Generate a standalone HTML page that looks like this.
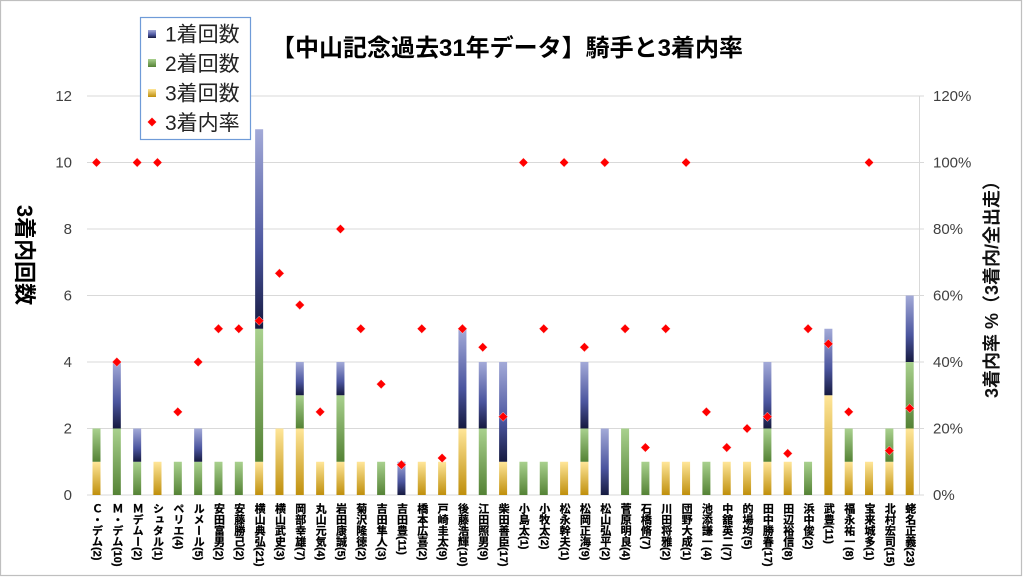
<!DOCTYPE html>
<html><head><meta charset="utf-8">
<style>
html,body{margin:0;padding:0;background:#fff;}
#wrap{position:relative;width:1024px;height:577px;overflow:hidden;background:#fff;}
svg{position:absolute;left:0;top:0;}
.xl{position:absolute;top:503px;width:12px;writing-mode:vertical-rl;text-orientation:mixed;font-family:"Liberation Sans","Noto Sans CJK JP",sans-serif;font-weight:bold;font-size:11px;line-height:12px;color:#000;white-space:nowrap;-webkit-text-stroke:0.25px #000;}
</style></head>
<body><div id="wrap">
<svg width="1024" height="577" viewBox="0 0 1024 577" xmlns="http://www.w3.org/2000/svg">
<defs>
<linearGradient id="g3" x1="0" y1="0" x2="0" y2="1"><stop offset="0" stop-color="#ffe699"/><stop offset="1" stop-color="#bf8f0c"/></linearGradient>
<linearGradient id="g2" x1="0" y1="0" x2="0" y2="1"><stop offset="0" stop-color="#a9d18e"/><stop offset="1" stop-color="#548235"/></linearGradient>
<linearGradient id="g1" x1="0" y1="0" x2="0" y2="1"><stop offset="0" stop-color="#a3aad8"/><stop offset="0.6" stop-color="#4b559e"/><stop offset="1" stop-color="#161a40"/></linearGradient>
<polygon id="d" points="0,-4.6 4.6,0 0,4.6 -4.6,0" fill="#ff0000" stroke="#ffd0d0" stroke-width="0.5"/>
</defs>
<rect x="0.5" y="0.5" width="1021" height="575" fill="#fff" stroke="#bfbfbf" stroke-width="1.2"/>
<g stroke="#d9d9d9" stroke-width="1">
<line x1="87" y1="96" x2="924" y2="96"/>
<line x1="87" y1="162.5" x2="924" y2="162.5"/>
<line x1="87" y1="229" x2="924" y2="229"/>
<line x1="87" y1="295.5" x2="924" y2="295.5"/>
<line x1="87" y1="362" x2="924" y2="362"/>
<line x1="87" y1="428.5" x2="924" y2="428.5"/>
<line x1="87" y1="495" x2="924" y2="495"/>
<line x1="919.5" y1="96" x2="919.5" y2="495"/>
</g>
<g font-family="Liberation Sans, sans-serif" font-size="15" fill="#404040" text-anchor="end">
<text x="72" y="101">12</text>
<text x="72" y="167.5">10</text>
<text x="72" y="234">8</text>
<text x="72" y="300.5">6</text>
<text x="72" y="367">4</text>
<text x="72" y="433.5">2</text>
<text x="72" y="500">0</text>
</g>
<g font-family="Liberation Sans, sans-serif" font-size="15" fill="#404040">
<text x="933" y="101">120%</text>
<text x="933" y="167.5">100%</text>
<text x="933" y="234">80%</text>
<text x="933" y="300.5">60%</text>
<text x="933" y="367">40%</text>
<text x="933" y="433.5">20%</text>
<text x="933" y="500">0%</text>
</g>
<g>
<rect x="92.5" y="461.75" width="8" height="33.25" fill="url(#g3)"/><rect x="92.5" y="428.5" width="8" height="33.25" fill="url(#g2)"/>
<rect x="112.83" y="428.5" width="8" height="66.5" fill="url(#g2)"/><rect x="112.83" y="362" width="8" height="66.5" fill="url(#g1)"/>
<rect x="133.16" y="461.75" width="8" height="33.25" fill="url(#g2)"/><rect x="133.16" y="428.5" width="8" height="33.25" fill="url(#g1)"/>
<rect x="153.49" y="461.75" width="8" height="33.25" fill="url(#g3)"/>
<rect x="173.82" y="461.75" width="8" height="33.25" fill="url(#g2)"/>
<rect x="194.15" y="461.75" width="8" height="33.25" fill="url(#g2)"/><rect x="194.15" y="428.5" width="8" height="33.25" fill="url(#g1)"/>
<rect x="214.48" y="461.75" width="8" height="33.25" fill="url(#g2)"/>
<rect x="234.81" y="461.75" width="8" height="33.25" fill="url(#g2)"/>
<rect x="255.14" y="461.75" width="8" height="33.25" fill="url(#g3)"/><rect x="255.14" y="328.75" width="8" height="133" fill="url(#g2)"/><rect x="255.14" y="129.25" width="8" height="199.5" fill="url(#g1)"/>
<rect x="275.47" y="428.5" width="8" height="66.5" fill="url(#g3)"/>
<rect x="295.8" y="428.5" width="8" height="66.5" fill="url(#g3)"/><rect x="295.8" y="395.25" width="8" height="33.25" fill="url(#g2)"/><rect x="295.8" y="362" width="8" height="33.25" fill="url(#g1)"/>
<rect x="316.13" y="461.75" width="8" height="33.25" fill="url(#g3)"/>
<rect x="336.46" y="461.75" width="8" height="33.25" fill="url(#g3)"/><rect x="336.46" y="395.25" width="8" height="66.5" fill="url(#g2)"/><rect x="336.46" y="362" width="8" height="33.25" fill="url(#g1)"/>
<rect x="356.79" y="461.75" width="8" height="33.25" fill="url(#g3)"/>
<rect x="377.12" y="461.75" width="8" height="33.25" fill="url(#g2)"/>
<rect x="397.45" y="461.75" width="8" height="33.25" fill="url(#g1)"/>
<rect x="417.78" y="461.75" width="8" height="33.25" fill="url(#g3)"/>
<rect x="438.11" y="461.75" width="8" height="33.25" fill="url(#g3)"/>
<rect x="458.44" y="428.5" width="8" height="66.5" fill="url(#g3)"/><rect x="458.44" y="328.75" width="8" height="99.75" fill="url(#g1)"/>
<rect x="478.77" y="428.5" width="8" height="66.5" fill="url(#g2)"/><rect x="478.77" y="362" width="8" height="66.5" fill="url(#g1)"/>
<rect x="499.1" y="461.75" width="8" height="33.25" fill="url(#g3)"/><rect x="499.1" y="362" width="8" height="99.75" fill="url(#g1)"/>
<rect x="519.43" y="461.75" width="8" height="33.25" fill="url(#g2)"/>
<rect x="539.76" y="461.75" width="8" height="33.25" fill="url(#g2)"/>
<rect x="560.09" y="461.75" width="8" height="33.25" fill="url(#g3)"/>
<rect x="580.42" y="461.75" width="8" height="33.25" fill="url(#g3)"/><rect x="580.42" y="428.5" width="8" height="33.25" fill="url(#g2)"/><rect x="580.42" y="362" width="8" height="66.5" fill="url(#g1)"/>
<rect x="600.75" y="428.5" width="8" height="66.5" fill="url(#g1)"/>
<rect x="621.08" y="428.5" width="8" height="66.5" fill="url(#g2)"/>
<rect x="641.41" y="461.75" width="8" height="33.25" fill="url(#g2)"/>
<rect x="661.74" y="461.75" width="8" height="33.25" fill="url(#g3)"/>
<rect x="682.07" y="461.75" width="8" height="33.25" fill="url(#g3)"/>
<rect x="702.4" y="461.75" width="8" height="33.25" fill="url(#g2)"/>
<rect x="722.73" y="461.75" width="8" height="33.25" fill="url(#g3)"/>
<rect x="743.06" y="461.75" width="8" height="33.25" fill="url(#g3)"/>
<rect x="763.39" y="461.75" width="8" height="33.25" fill="url(#g3)"/><rect x="763.39" y="428.5" width="8" height="33.25" fill="url(#g2)"/><rect x="763.39" y="362" width="8" height="66.5" fill="url(#g1)"/>
<rect x="783.72" y="461.75" width="8" height="33.25" fill="url(#g3)"/>
<rect x="804.05" y="461.75" width="8" height="33.25" fill="url(#g2)"/>
<rect x="824.38" y="395.25" width="8" height="99.75" fill="url(#g3)"/><rect x="824.38" y="328.75" width="8" height="66.5" fill="url(#g1)"/>
<rect x="844.71" y="461.75" width="8" height="33.25" fill="url(#g3)"/><rect x="844.71" y="428.5" width="8" height="33.25" fill="url(#g2)"/>
<rect x="865.04" y="461.75" width="8" height="33.25" fill="url(#g3)"/>
<rect x="885.37" y="461.75" width="8" height="33.25" fill="url(#g3)"/><rect x="885.37" y="428.5" width="8" height="33.25" fill="url(#g2)"/>
<rect x="905.7" y="428.5" width="8" height="66.5" fill="url(#g3)"/><rect x="905.7" y="362" width="8" height="66.5" fill="url(#g2)"/><rect x="905.7" y="295.5" width="8" height="66.5" fill="url(#g1)"/>
</g>
<g>
<use href="#d" x="96.5" y="162.5"/>
<use href="#d" x="116.83" y="362"/>
<use href="#d" x="137.16" y="162.5"/>
<use href="#d" x="157.49" y="162.5"/>
<use href="#d" x="177.82" y="411.88"/>
<use href="#d" x="198.15" y="362"/>
<use href="#d" x="218.48" y="328.75"/>
<use href="#d" x="238.81" y="328.75"/>
<use href="#d" x="259.14" y="320.83"/>
<use href="#d" x="279.47" y="273.33"/>
<use href="#d" x="299.8" y="305"/>
<use href="#d" x="320.13" y="411.88"/>
<use href="#d" x="340.46" y="229"/>
<use href="#d" x="360.79" y="328.75"/>
<use href="#d" x="381.12" y="384.17"/>
<use href="#d" x="401.45" y="464.77"/>
<use href="#d" x="421.78" y="328.75"/>
<use href="#d" x="442.11" y="458.06"/>
<use href="#d" x="462.44" y="328.75"/>
<use href="#d" x="482.77" y="347.22"/>
<use href="#d" x="503.1" y="416.76"/>
<use href="#d" x="523.43" y="162.5"/>
<use href="#d" x="543.76" y="328.75"/>
<use href="#d" x="564.09" y="162.5"/>
<use href="#d" x="584.42" y="347.22"/>
<use href="#d" x="604.75" y="162.5"/>
<use href="#d" x="625.08" y="328.75"/>
<use href="#d" x="645.41" y="447.5"/>
<use href="#d" x="665.74" y="328.75"/>
<use href="#d" x="686.07" y="162.5"/>
<use href="#d" x="706.4" y="411.88"/>
<use href="#d" x="726.73" y="447.5"/>
<use href="#d" x="747.06" y="428.5"/>
<use href="#d" x="767.39" y="416.76"/>
<use href="#d" x="787.72" y="453.44"/>
<use href="#d" x="808.05" y="328.75"/>
<use href="#d" x="828.38" y="343.86"/>
<use href="#d" x="848.71" y="411.88"/>
<use href="#d" x="869.04" y="162.5"/>
<use href="#d" x="889.37" y="450.67"/>
<use href="#d" x="909.7" y="408.26"/>
</g>
<text x="507" y="56" text-anchor="middle" font-family="Liberation Sans, Noto Sans CJK JP, sans-serif" font-weight="bold" font-size="24" fill="#000">【中山記念過去31年データ】騎手と3着内率</text>
<text transform="translate(17,255) rotate(90)" text-anchor="middle" font-family="Liberation Sans, Noto Sans CJK JP, sans-serif" font-weight="bold" font-size="22" fill="#000">3着内回数</text>
<text transform="translate(998,285) rotate(-90)" text-anchor="middle" font-family="Liberation Sans, Noto Sans CJK JP, sans-serif" font-weight="bold" font-size="18" fill="#111">3着内率 %（3着内/全出走）</text>
<rect x="140.5" y="17.5" width="110" height="122" fill="#fff" stroke="#6f9bd8" stroke-width="1.2"/>
<rect x="148" y="30" width="8" height="8" fill="url(#g1)"/>
<rect x="148" y="59" width="8" height="8" fill="url(#g2)"/>
<rect x="148" y="89" width="8" height="8" fill="url(#g3)"/>
<use href="#d" x="152" y="122"/>
<g font-family="Liberation Sans, Noto Sans CJK JP, sans-serif" font-size="21" fill="#222">
<text x="165" y="41.5">1着回数</text>
<text x="165" y="71">2着回数</text>
<text x="165" y="100.5">3着回数</text>
<text x="165" y="130">3着内率</text>
</g>
</svg>
<div class="xl" style="left:90.5px">Ｃ・デム(2)</div>
<div class="xl" style="left:110.83px">Ｍ・デム(10)</div>
<div class="xl" style="left:131.16px">Ｍデムー(2)</div>
<div class="xl" style="left:151.49px">シュタル(1)</div>
<div class="xl" style="left:171.82px">ペリエ(4)</div>
<div class="xl" style="left:192.15px">ルメール(5)</div>
<div class="xl" style="left:212.48px">安田富男(2)</div>
<div class="xl" style="left:232.81px">安藤勝己(2)</div>
<div class="xl" style="left:253.14px">横山典弘(21)</div>
<div class="xl" style="left:273.47px">横山武史(3)</div>
<div class="xl" style="left:293.8px">岡部幸雄(7)</div>
<div class="xl" style="left:314.13px">丸山元気(4)</div>
<div class="xl" style="left:334.46px">岩田康誠(5)</div>
<div class="xl" style="left:354.79px">菊沢隆徳(2)</div>
<div class="xl" style="left:375.12px">吉田隼人(3)</div>
<div class="xl" style="left:395.45px">吉田豊(11)</div>
<div class="xl" style="left:415.78px">橋本広喜(2)</div>
<div class="xl" style="left:436.11px">戸崎圭太(9)</div>
<div class="xl" style="left:456.44px">後藤浩輝(10)</div>
<div class="xl" style="left:476.77px">江田照男(9)</div>
<div class="xl" style="left:497.1px">柴田善臣(17)</div>
<div class="xl" style="left:517.43px">小島太(1)</div>
<div class="xl" style="left:537.76px">小牧太(2)</div>
<div class="xl" style="left:558.09px">松永幹夫(1)</div>
<div class="xl" style="left:578.42px">松岡正海(9)</div>
<div class="xl" style="left:598.75px">松山弘平(2)</div>
<div class="xl" style="left:619.08px">菅原明良(4)</div>
<div class="xl" style="left:639.41px">石橋脩(7)</div>
<div class="xl" style="left:659.74px">川田将雅(2)</div>
<div class="xl" style="left:680.07px">団野大成(1)</div>
<div class="xl" style="left:700.4px">池添謙一(4)</div>
<div class="xl" style="left:720.73px">中舘英二(7)</div>
<div class="xl" style="left:741.06px">的場均(5)</div>
<div class="xl" style="left:761.39px">田中勝春(17)</div>
<div class="xl" style="left:781.72px">田辺裕信(8)</div>
<div class="xl" style="left:802.05px">浜中俊(2)</div>
<div class="xl" style="left:822.38px">武豊(11)</div>
<div class="xl" style="left:842.71px">福永祐一(8)</div>
<div class="xl" style="left:863.04px">宝来城多(1)</div>
<div class="xl" style="left:883.37px">北村宏司(15)</div>
<div class="xl" style="left:903.7px">蛯名正義(23)</div>
</div></body></html>
